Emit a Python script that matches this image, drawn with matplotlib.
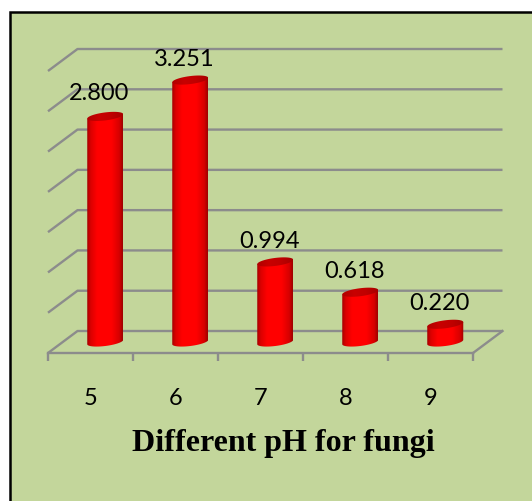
import matplotlib
matplotlib.use('Agg')
import matplotlib.pyplot as plt
import numpy as np
from matplotlib.colors import LinearSegmentedColormap
from matplotlib.patches import Polygon, Rectangle

# datos
categorias = ['5', '6', '7', '8', '9']
valores = [2.800, 3.251, 0.994, 0.618, 0.220]
etiquetas = ['2.800', '3.251', '0.994', '0.618', '0.220']
marcas_y = [0, 0.5, 1, 1.5, 2, 2.5, 3, 3.5]
titulo = 'Different pH for fungi'

W, H = 532, 502
verde = '#c3d69b'
gris = '#8c8c8c'

fig = plt.figure(figsize=(W / 100, H / 100), dpi=100, facecolor='white')
# panel verde con borde negro, se sale por la derecha y por abajo
fig.patches.append(Rectangle((10 / W, -0.05), 1.1, 1.05 - 13 / H, transform=fig.transFigure,
                             facecolor=verde, edgecolor='black', linewidth=1.8, figure=fig, zorder=-1))

# el plano frontal de la caja 3D es el area de los ejes
ax = fig.add_axes([48 / W, 1 - 354 / H, 425 / W, 282 / H])
ax.patch.set_alpha(0)
for lado in ['top', 'right', 'left']:
    ax.spines[lado].set_visible(False)
ax.spines['bottom'].set_color(gris)
ax.spines['bottom'].set_linewidth(1.7)

# profundidad en unidades de datos
px_x = 85.0
px_y = 80.6
dx = 29.5 / px_x
dy = 22 / px_y
n = len(categorias)

# rejilla: pared del fondo y lado izquierdo
for v in marcas_y:
    ax.plot([0, dx, n + dx], [v, v + dy, v + dy], color=gris, lw=1.7, clip_on=False, zorder=1,
            solid_capstyle='butt')
ax.plot([n, n + dx], [0, dy], color=gris, lw=1.7, clip_on=False, zorder=1)

# degradados del cilindro
cm_cuerpo = LinearSegmentedColormap.from_list('cuerpo', [(0, '#a80000'), (0.1, '#dc0000'), (0.28, '#ff0000'),
                                                         (0.68, '#ff0000'), (0.9, '#d80000'), (1, '#a00000')])
cm_tapa = LinearSegmentedColormap.from_list('tapa', ['#b00000', '#c80000', '#c00000', '#a80000'])
degradado = np.linspace(0, 1, 64).reshape(1, -1)

a = 18 / px_x
b = 4.0 / px_y
incl = 2.2 / px_y
t = np.linspace(0, 2 * np.pi, 90)

for i, v in enumerate(valores):
    cx = i + 0.5 + dx / 2
    base = dy / 2
    arriba = v + dy / 2

    # cuerpo: desde el lado derecho de arriba, media elipse abajo, hasta el lado izquierdo
    t_abajo = np.linspace(0, -np.pi, 45)
    xs = cx + a * np.cos(t_abajo)
    ys = base + b * np.sin(t_abajo) + incl * np.cos(t_abajo)
    xs = np.r_[cx + a, xs, cx - a]
    ys = np.r_[arriba + incl, ys, arriba - incl]
    cuerpo = Polygon(np.c_[xs, ys], closed=True, transform=ax.transData, facecolor='none', edgecolor='none')
    ax.add_patch(cuerpo)
    im = ax.imshow(degradado, cmap=cm_cuerpo, extent=[cx - a, cx + a, base - 0.2, arriba + 0.2], aspect='auto',
                   zorder=3, interpolation='bilinear')
    im.set_clip_path(cuerpo)

    # tapa
    tapa = Polygon(np.c_[cx + a * np.cos(t), arriba + b * np.sin(t) + incl * np.cos(t)], closed=True,
                   facecolor='none', edgecolor='none')
    ax.add_patch(tapa)
    im2 = ax.imshow(degradado, cmap=cm_tapa, extent=[cx - a, cx + a, arriba - 0.2, arriba + 0.2], aspect='auto',
                    zorder=4, interpolation='bilinear')
    im2.set_clip_path(tapa)

    # etiqueta
    ax.annotate(etiquetas[i], (cx, arriba), xytext=(-4.2, 15.5 if i > 0 else 17.5), textcoords='offset points',
                ha='center', va='center', fontsize=17, family='Lato', color='black', zorder=5,
                annotation_clip=False)

ax.set_xlim(0, n)
ax.set_ylim(0, 3.5)
ax.set_yticks([])

# marcas en los limites y texto centrado entre ellas
ax.set_xticks(np.arange(n + 1))
ax.set_xticklabels([])
ax.set_xticks(np.arange(n) + 0.5, minor=True)
ax.set_xticklabels(categorias, minor=True, fontsize=17, family='Lato')
ax.tick_params(axis='x', which='major', length=6, width=1.7, color=gris)
ax.tick_params(axis='x', which='minor', length=0, pad=24.5)

fig.text(283 / W, 1 - 444 / H, titulo, ha='center', va='center', fontsize=23, fontweight='bold',
         family='Liberation Serif', color='black')

fig.savefig('out.png', dpi=100)
